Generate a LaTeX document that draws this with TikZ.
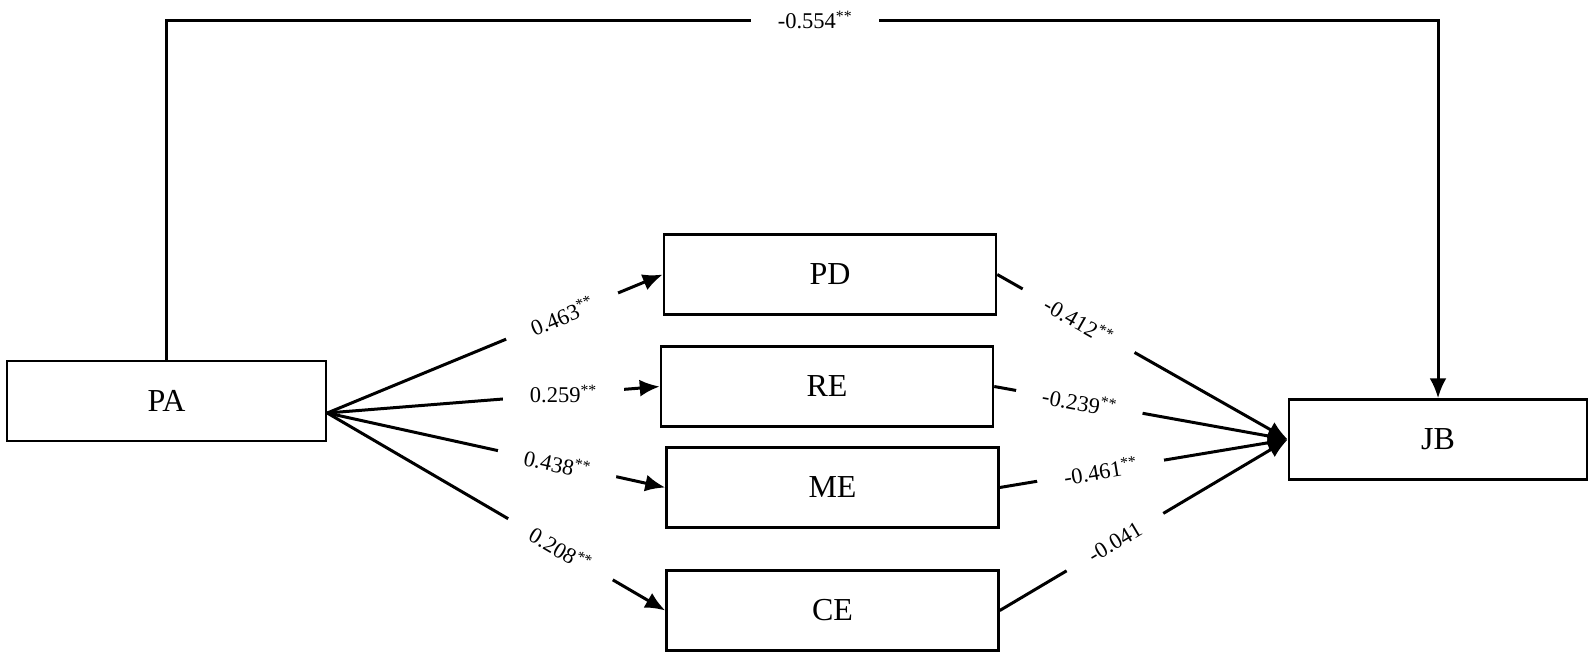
\documentclass[tikz,border=0pt]{standalone}
\usepackage{fontspec}
\setmainfont{Liberation Serif}
\usetikzlibrary{arrows.meta}

\begin{document}
\begin{tikzpicture}[x=1pt,y=-1pt,
	var/.style={draw,line width=2.5pt,inner sep=0pt,minimum width=332pt,minimum height=80pt,font=\fontsize{32}{36}\selectfont},
	path arrow/.style={line width=3pt,-{Latex[length=20pt,width=17pt]}},
	coef/.style={fill=white,inner xsep=27pt,inner ysep=3pt,font=\fontsize{22.5}{25}\selectfont},
	]
		\useasboundingbox (0,0) rectangle (1595,659);
		%\node (nom) at(x,y) [options] {texte} ;
		\node (PA) at(166.5, 401) [var,minimum width=319pt] {PA} ;
		\node (PD) at(830, 274.5) [var] {PD} ;
		\node (RE) at(827, 386.5) [var] {RE} ;
		\node (ME) at(832.5, 487.5) [var] {ME} ;
		\node (CE) at(832.5, 610.5) [var] {CE} ;
		\node (JB) at(1438, 439.5) [var,minimum width=298pt] {JB} ;

		\coordinate (PA out) at ([yshift=-12pt]PA.east);
		\coordinate (top) at (802, 20);

		%effet direct
		\draw[path arrow] (PA.north) -- (PA.north |- top)
			-- node[coef,pos=0.51] {-0.554\textsuperscript{**}} (JB.north |- top) -- (JB.north);

		%PA vers les mediateurs, puis vers JB
		\path
		(PA out) edge[path arrow] node[coef,sloped,pos=0.7] {0.463\textsuperscript{**}} (PD.west)
		(PA out) edge[path arrow] node[coef,pos=0.71] {0.259\textsuperscript{**}} (RE.west)
		(PA out) edge[path arrow] node[coef,sloped,pos=0.68] {0.438\textsuperscript{**}} (ME.west)
		(PA out) edge[path arrow] node[coef,sloped,pos=0.69] {0.208\textsuperscript{**}} (CE.west)
		(PD.east) edge[path arrow] node[coef,sloped,pos=0.28] {-0.412\textsuperscript{**}} (JB.west)
		(RE.east) edge[path arrow] node[coef,sloped,pos=0.29] {-0.239\textsuperscript{**}} (JB.west)
		(ME.east) edge[path arrow] node[coef,sloped,pos=0.35] {-0.461\textsuperscript{**}} (JB.west)
		(CE.east) edge[path arrow] node[coef,sloped,pos=0.40] {-0.041} (JB.west)
		;
	\end{tikzpicture}
\end{document}
